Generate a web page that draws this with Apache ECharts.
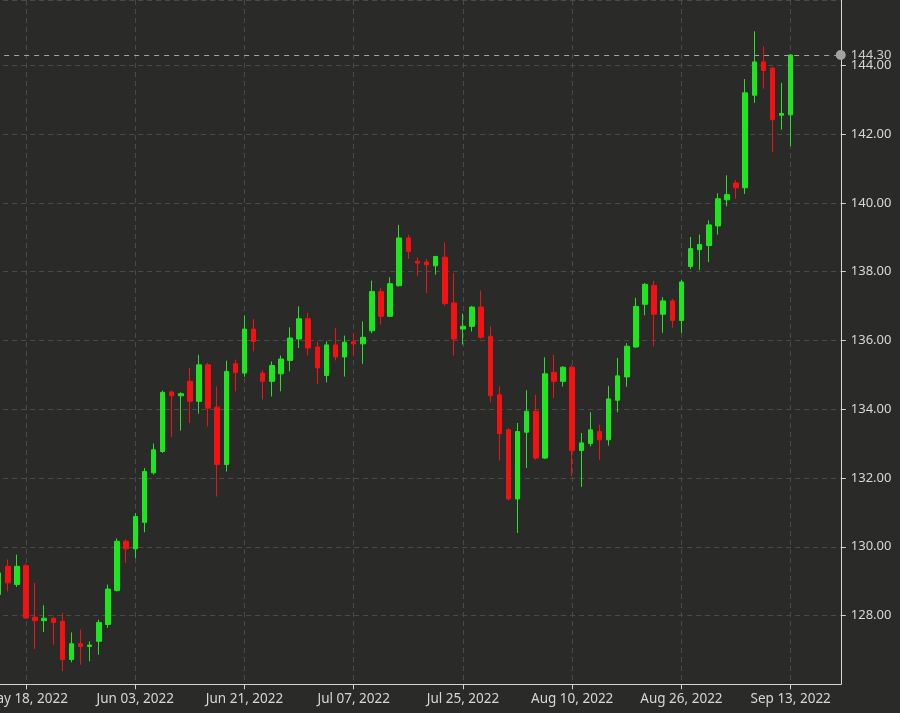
<!DOCTYPE html>
<html>
<head>
<meta charset="utf-8">
<script src="https://cdn.jsdelivr.net/npm/echarts@6/dist/echarts.min.js"></script>
<style>
  html, body { margin: 0; padding: 0; background: #2a2b29; }
  #chart { width: 900px; height: 713px; }
</style>
</head>
<body>
<div id="chart"></div>
<script>
// Trading days (category axis)
const dates = [
  'May 13, 2022','May 16, 2022','May 17, 2022','May 18, 2022','May 19, 2022','May 20, 2022','May 23, 2022','May 24, 2022','May 25, 2022','May 26, 2022','May 27, 2022','May 30, 2022','May 31, 2022',
  'Jun 01, 2022','Jun 02, 2022','Jun 03, 2022','Jun 06, 2022','Jun 07, 2022','Jun 08, 2022','Jun 09, 2022','Jun 10, 2022','Jun 13, 2022','Jun 14, 2022','Jun 15, 2022','Jun 16, 2022','Jun 17, 2022','Jun 20, 2022','Jun 21, 2022','Jun 22, 2022','Jun 23, 2022','Jun 24, 2022','Jun 27, 2022','Jun 28, 2022','Jun 29, 2022','Jun 30, 2022',
  'Jul 01, 2022','Jul 04, 2022','Jul 05, 2022','Jul 06, 2022','Jul 07, 2022','Jul 08, 2022','Jul 11, 2022','Jul 12, 2022','Jul 13, 2022','Jul 14, 2022','Jul 15, 2022','Jul 18, 2022','Jul 19, 2022','Jul 20, 2022','Jul 21, 2022','Jul 22, 2022','Jul 25, 2022','Jul 26, 2022','Jul 27, 2022','Jul 28, 2022','Jul 29, 2022',
  'Aug 01, 2022','Aug 02, 2022','Aug 03, 2022','Aug 04, 2022','Aug 05, 2022','Aug 08, 2022','Aug 09, 2022','Aug 10, 2022','Aug 11, 2022','Aug 12, 2022','Aug 15, 2022','Aug 16, 2022','Aug 17, 2022','Aug 18, 2022','Aug 19, 2022','Aug 22, 2022','Aug 23, 2022','Aug 24, 2022','Aug 25, 2022','Aug 26, 2022','Aug 29, 2022','Aug 30, 2022','Aug 31, 2022',
  'Sep 01, 2022','Sep 02, 2022','Sep 05, 2022','Sep 06, 2022','Sep 07, 2022','Sep 08, 2022','Sep 09, 2022','Sep 12, 2022','Sep 13, 2022'
];
const opens = [
  128.61,129.43,128.90,129.45,127.95,127.85,127.92,127.83,126.72,127.18,127.10,127.25,127.74,
  128.73,130.16,129.94,130.71,132.15,132.77,134.50,134.39,134.81,134.23,135.29,134.06,132.39,135.32,135.05,136.33,135.05,134.81,135.03,135.42,136.04,136.63,
  135.81,134.98,135.87,135.52,135.96,135.90,136.28,137.42,136.70,137.59,138.98,138.30,138.28,138.17,138.42,137.09,136.33,136.41,136.97,136.12,134.42,
  133.40,131.39,133.33,133.94,132.58,135.07,134.81,135.22,132.80,133.00,133.35,133.11,134.26,134.94,135.81,137.05,137.60,136.76,137.15,136.58,138.15,138.64,138.76,
  139.33,140.09,140.58,140.44,143.13,144.10,143.92,142.55,142.56
];
const closes = [
  129.24,128.95,129.43,127.93,127.85,127.92,127.80,126.72,127.18,127.10,127.14,127.80,128.77,
  130.16,129.94,130.88,132.19,132.82,134.49,134.39,134.45,134.23,135.29,134.03,132.39,135.10,135.07,136.33,135.97,134.81,135.27,135.46,136.07,136.63,135.78,
  135.20,135.87,135.52,135.95,135.90,136.09,137.42,136.70,137.65,138.98,138.59,138.25,138.20,138.44,137.07,136.04,136.41,136.97,136.09,134.39,133.29,
  131.39,133.35,133.94,132.58,135.03,134.81,135.22,132.80,133.02,133.40,133.11,134.30,134.97,135.83,136.99,137.63,136.76,137.15,136.58,137.70,138.67,138.79,139.36,
  140.12,140.24,140.44,143.20,144.10,143.85,142.42,142.60,144.30
];
const lows = [
  128.50,128.70,128.83,127.90,127.03,127.52,127.15,126.38,126.64,126.57,126.67,126.86,127.64,
  128.70,129.53,129.67,130.42,132.10,132.73,133.19,133.38,133.60,133.87,133.50,131.46,132.19,134.52,134.94,135.68,134.28,134.37,134.52,135.10,135.78,135.56,
  134.74,134.78,135.42,134.95,135.56,135.32,136.21,136.46,136.68,137.57,138.37,137.88,137.38,137.91,137.01,135.56,135.88,136.26,136.05,134.20,132.51,
  131.35,130.40,132.29,132.53,132.55,134.33,134.66,132.05,131.74,132.92,132.53,132.94,133.91,134.65,135.78,136.73,135.83,136.22,136.37,136.22,138.08,138.05,138.28,
  139.08,139.90,140.12,140.26,142.91,143.32,141.48,142.13,141.65
];
const highs = [
  129.40,129.63,129.77,129.50,128.95,128.30,127.95,128.08,127.51,127.59,127.25,127.88,128.90,
  130.24,130.21,130.98,132.29,133.00,134.54,134.54,134.49,135.20,135.58,135.35,134.66,135.41,135.44,136.72,136.62,135.13,135.39,135.56,136.38,136.99,136.80,
  135.97,135.97,136.36,136.14,136.22,136.55,137.74,137.52,137.84,139.36,139.07,138.42,138.37,138.46,138.85,137.96,136.78,137.00,137.45,136.41,134.66,
  133.45,133.60,134.55,134.42,135.51,135.58,135.25,135.29,133.31,133.91,133.55,134.68,135.49,135.92,137.24,137.67,137.73,137.26,137.21,137.76,139.01,139.08,139.49,
  140.28,140.80,140.67,143.60,144.99,144.55,143.95,143.49,144.32
];
const yTicks = { min: 126, max: 145.9, step: 2 };
const labelEvery = 12;
const labelStart = 3;

// empty future slots on the right side of the axis
const padSlots = 5;
const categories = dates.concat(Array.from({ length: padSlots }, (_, k) => ' '.repeat(k + 1)));
const ohlc = dates.map((d, i) => [opens[i], closes[i], lows[i], highs[i]]);
const lastClose = closes[closes.length - 1];

const showAt = (index) => index >= labelStart && index < dates.length && (index - labelStart) % labelEvery === 0;

const chart = echarts.init(document.getElementById('chart'), null, { renderer: 'canvas' });
const FONT = 'Noto Sans';
chart.setOption({
  backgroundColor: '#2a2b29',
  animation: false,
  grid: { left: -5.85, right: 59.24, top: 0, bottom: 28.7, containLabel: false, outerBoundsMode: 'none' },
  xAxis: {
    type: 'category',
    data: categories,
    boundaryGap: true,
    axisLine: { show: true, lineStyle: { color: '#d4d4d4', width: 1 } },
    axisTick: { show: true, interval: showAt, alignWithLabel: true, length: 5, lineStyle: { color: '#d4d4d4' } },
    axisLabel: { interval: showAt, color: '#d6d6d6', fontFamily: FONT, fontSize: 13.5, margin: 8, hideOverlap: false },
    splitLine: { show: true, interval: showAt, alignWithLabel: true, lineStyle: { color: '#4a4a48', type: [5, 4], width: 1 } }
  },
  yAxis: {
    type: 'value',
    position: 'right',
    min: yTicks.min,
    max: yTicks.max,
    interval: yTicks.step,
    axisLine: { show: true, lineStyle: { color: '#d4d4d4', width: 1 } },
    axisTick: { show: true, length: 5, lineStyle: { color: '#d4d4d4' } },
    axisLabel: { showMinLabel: false, showMaxLabel: false, color: '#d6d6d6', fontFamily: FONT, fontSize: 13, margin: 10,
      formatter: (v) => v.toFixed(2) },
    splitLine: { show: true, lineStyle: { color: '#4a4a48', type: [5, 4], width: 1 } }
  },
  series: [{
    type: 'candlestick',
    data: ohlc,
    barWidth: 5,
    itemStyle: {
      color: '#1ee61e', color0: '#f41111',
      borderColor: '#1ee61e', borderColor0: '#f41111', borderWidth: 1
    },
    markLine: {
      silent: true,
      symbol: ['none', 'circle'],
      symbolSize: 10,
      lineStyle: { color: '#a3a3a3', type: [5, 5], width: 1 },
      itemStyle: { color: '#8c8c8c' },
      label: { show: true, position: 'end', distance: 10, color: '#cfcfcf', fontFamily: FONT, fontSize: 13,
        formatter: (p) => Number(p.value).toFixed(2) },
      data: [{ yAxis: lastClose, symbol: 'circle', symbolSize: 10, itemStyle: { color: '#8c8c8c' } }]
    }
  }]
});
</script>
</body>
</html>
